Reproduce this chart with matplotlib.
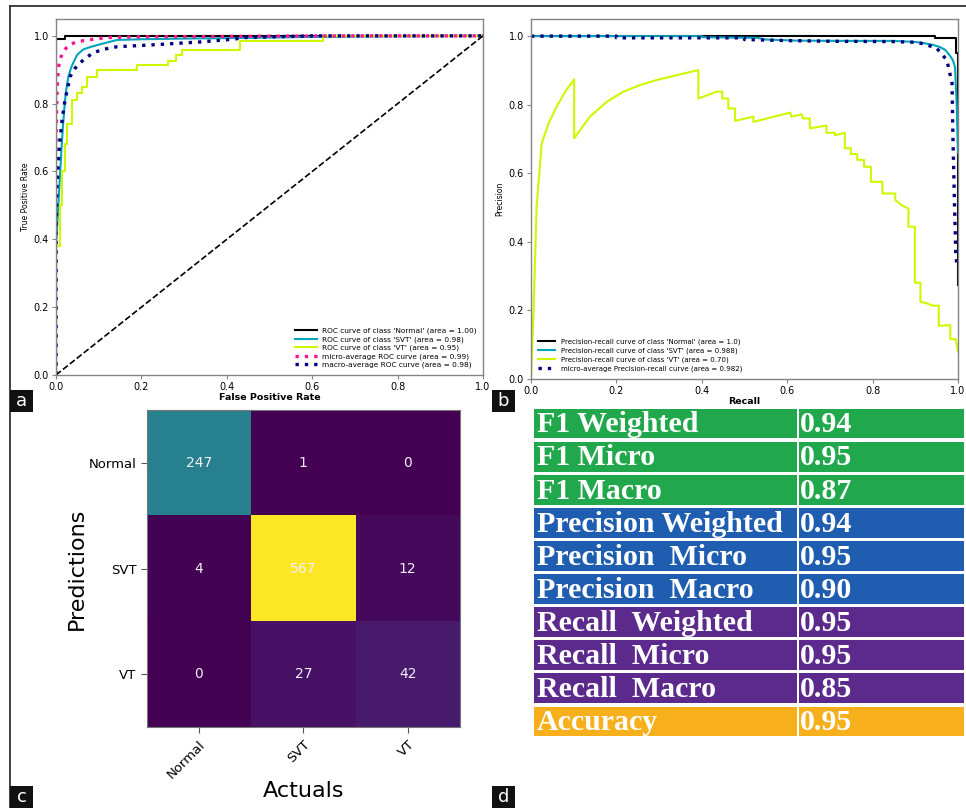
import numpy as np
import matplotlib
matplotlib.use('Agg')
import matplotlib.pyplot as plt
from matplotlib.lines import Line2D
from matplotlib.patches import Rectangle

# ---- panel a: ROC curves ----
roc_normal_fpr = [0.0, 0.0, 0.021, 0.021, 1.0]
roc_normal_tpr = [0.0, 0.99, 0.99, 1.0, 1.0]

roc_svt_fpr = [0.0, 0.0, 0.004, 0.008, 0.012, 0.016, 0.021, 0.025, 0.029, 0.035, 0.042, 0.05,
               0.064, 0.08, 0.1, 0.118, 0.143, 0.2, 0.3, 0.45, 0.6, 0.8, 1.0]
roc_svt_tpr = [0.0, 0.38, 0.47, 0.56, 0.65, 0.73, 0.81, 0.85, 0.88, 0.905, 0.925, 0.945,
               0.96, 0.967, 0.974, 0.98, 0.988, 0.99, 0.992, 0.994, 0.997, 0.999, 1.0]

roc_vt_fpr = [0.0, 0.0, 0.01, 0.015, 0.02, 0.026, 0.037, 0.049, 0.061, 0.072, 0.096,
              0.19, 0.263, 0.28, 0.295, 0.431, 0.625, 1.0]
roc_vt_tpr = [0.0, 0.38, 0.5, 0.6, 0.68, 0.74, 0.81, 0.83, 0.85, 0.88, 0.90,
              0.914, 0.926, 0.944, 0.959, 0.985, 1.0, 1.0]

roc_micro_fpr = [0.0, 0.0, 0.002, 0.005, 0.009, 0.014, 0.02, 0.026, 0.035, 0.049, 0.065,
                 0.087, 0.12, 0.2, 0.35, 0.5, 0.7, 1.0]
roc_micro_tpr = [0.0, 0.7, 0.82, 0.9, 0.93, 0.945, 0.958, 0.968, 0.976, 0.982, 0.986,
                 0.99, 0.995, 0.997, 0.998, 0.999, 1.0, 1.0]

roc_macro_fpr = [0.0, 0.0, 0.002, 0.005, 0.009, 0.015, 0.021, 0.033, 0.045, 0.056, 0.07,
                 0.087, 0.11, 0.143, 0.22, 0.337, 0.415, 0.44, 0.6, 1.0]
roc_macro_tpr = [0.0, 0.4, 0.55, 0.62, 0.69, 0.76, 0.81, 0.88, 0.905, 0.92, 0.935,
                 0.95, 0.96, 0.968, 0.973, 0.982, 0.99, 0.995, 1.0, 1.0]

roc_labels = ["ROC curve of class 'Normal' (area = 1.00)",
              "ROC curve of class 'SVT' (area = 0.98)",
              "ROC curve of class 'VT' (area = 0.95)",
              "micro-average ROC curve (area = 0.99)",
              "macro-average ROC curve (area = 0.98)"]

# ---- panel b: precision-recall curves ----
pr_normal_recall = [0.0, 0.946, 0.946, 0.995, 0.995, 1.0, 1.0]
pr_normal_precision = [1.0, 1.0, 0.995, 0.995, 0.95, 0.95, 0.274]

pr_svt_recall = [0.0, 0.40, 0.40, 0.53, 0.55, 0.62, 0.75, 0.85, 0.9, 0.918, 0.94, 0.958,
                 0.97, 0.98, 0.988, 0.993, 0.997, 1.0]
pr_svt_precision = [1.0, 1.0, 0.997, 0.995, 0.99, 0.987, 0.986, 0.986, 0.983, 0.98, 0.975, 0.968,
                    0.96, 0.945, 0.93, 0.91, 0.8, 0.66]

pr_vt_recall = [0.0, 0.006, 0.013, 0.025, 0.041, 0.06, 0.08, 0.101, 0.101, 0.138, 0.177, 0.216,
                0.255, 0.294, 0.341, 0.392, 0.392, 0.435, 0.448, 0.448, 0.462, 0.462, 0.478,
                0.478, 0.521, 0.521, 0.607, 0.61, 0.634, 0.637, 0.653, 0.653, 0.692, 0.692,
                0.712, 0.712, 0.735, 0.735, 0.749, 0.749, 0.764, 0.764, 0.78, 0.78, 0.796,
                0.796, 0.823, 0.823, 0.853, 0.853, 0.868, 0.884, 0.884, 0.899, 0.899, 0.912,
                0.912, 0.926, 0.94, 0.955, 0.955, 0.982, 0.982, 0.995, 1.0]
pr_vt_precision = [0.0, 0.2, 0.5, 0.687, 0.745, 0.794, 0.838, 0.874, 0.702, 0.765, 0.808, 0.838,
                   0.857, 0.872, 0.886, 0.901, 0.818, 0.838, 0.838, 0.818, 0.818, 0.789, 0.789,
                   0.753, 0.765, 0.75, 0.777, 0.765, 0.772, 0.76, 0.76, 0.731, 0.739, 0.718,
                   0.718, 0.711, 0.718, 0.673, 0.673, 0.656, 0.656, 0.639, 0.639, 0.619, 0.619,
                   0.575, 0.575, 0.541, 0.541, 0.522, 0.507, 0.497, 0.444, 0.444, 0.281, 0.281,
                   0.225, 0.221, 0.214, 0.214, 0.155, 0.157, 0.116, 0.116, 0.08]

pr_micro_recall = [0.0, 0.2, 0.2, 0.5, 0.5, 0.6, 0.7, 0.85, 0.9, 0.918, 0.95, 0.974, 0.986,
                   0.988, 0.992, 0.995, 0.997]
pr_micro_precision = [1.0, 1.0, 0.995, 0.995, 0.99, 0.987, 0.985, 0.984, 0.982, 0.978, 0.965,
                      0.93, 0.863, 0.717, 0.5, 0.36, 0.338]

pr_labels = ["Precision-recall curve of class 'Normal' (area = 1.0)",
             "Precision-recall curve of class 'SVT' (area = 0.988)",
             "Precision-recall curve of class 'VT' (area = 0.70)",
             "micro-average Precision-recall curve (area = 0.982)"]

# ---- panel c: confusion matrix ----
classes = ['Normal', 'SVT', 'VT']
conf_matrix = [[247, 1, 0],
               [4, 567, 12],
               [0, 27, 42]]

# ---- panel d: metrics table ----
metric_names = ['F1 Weighted', 'F1 Micro', 'F1 Macro',
                'Precision Weighted', 'Precision  Micro', 'Precision  Macro',
                'Recall  Weighted', 'Recall  Micro', 'Recall  Macro', 'Accuracy']
metric_values = [0.94, 0.95, 0.87, 0.94, 0.95, 0.90, 0.95, 0.95, 0.85, 0.95]
metric_groups = ['f1', 'f1', 'f1', 'prec', 'prec', 'prec', 'rec', 'rec', 'rec', 'acc']
group_colors = {'f1': '#22a84c', 'prec': '#1f5db0', 'rec': '#5b2a8c', 'acc': '#f7b01c'}

DOTTED = (0, (1, 1.8))


def style_curve_axes(ax):
    for s in ax.spines.values():
        s.set_color('#858585')
        s.set_linewidth(1.0)
    ax.tick_params(labelsize=7, length=3, color='#858585', pad=2)
    ax.set_xlim(0.0, 1.0)
    ax.set_ylim(0.0, 1.05)
    ax.set_xticks([0.0, 0.2, 0.4, 0.6, 0.8, 1.0])
    ax.set_yticks([0.0, 0.2, 0.4, 0.6, 0.8, 1.0])


def draw_roc(ax):
    cmap = plt.cm.nipy_spectral
    ax.plot(roc_normal_fpr, roc_normal_tpr, color=cmap(0.0), lw=1.5, label=roc_labels[0])
    ax.plot(roc_svt_fpr, roc_svt_tpr, color=cmap(1 / 3), lw=1.5, label=roc_labels[1])
    ax.plot(roc_vt_fpr, roc_vt_tpr, color=cmap(2 / 3), lw=1.5, drawstyle='steps-post',
            label=roc_labels[2])
    ax.plot(roc_micro_fpr, roc_micro_tpr, color='deeppink', ls=DOTTED, lw=2.4,
            label=roc_labels[3])
    ax.plot(roc_macro_fpr, roc_macro_tpr, color='navy', ls=DOTTED, lw=2.4,
            label=roc_labels[4])
    ax.plot([0, 1], [0, 1], 'k--', lw=1.2)
    style_curve_axes(ax)
    ax.set_xlabel('False Positive Rate', fontsize=6.8, fontweight='bold', labelpad=1)
    ax.set_ylabel('True Positive Rate', fontsize=5.5, labelpad=3)
    ax.legend(loc='lower right', fontsize=5.3, frameon=False, labelspacing=0.25,
              handlelength=3.0, handletextpad=0.6, borderaxespad=0.5)


def draw_pr(ax):
    cmap = plt.cm.nipy_spectral
    ax.plot(pr_normal_recall, pr_normal_precision, color=cmap(0.0), lw=1.5, label=pr_labels[0])
    ax.plot(pr_svt_recall, pr_svt_precision, color=cmap(1 / 3), lw=1.5, label=pr_labels[1])
    ax.plot(pr_vt_recall, pr_vt_precision, color=cmap(2 / 3), lw=1.5, label=pr_labels[2])
    ax.plot(pr_micro_recall, pr_micro_precision, color='navy', ls=DOTTED, lw=2.4,
            label=pr_labels[3])
    style_curve_axes(ax)
    ax.set_xlabel('Recall', fontsize=6.8, fontweight='bold', labelpad=1)
    ax.set_ylabel('Precision', fontsize=5.5, labelpad=3)
    ax.legend(loc='lower left', fontsize=5, frameon=False, labelspacing=0.35,
              handlelength=2.5, borderaxespad=0.6)


def draw_confusion(ax):
    data = np.array(conf_matrix)
    ax.imshow(data, cmap='viridis', aspect='auto')
    for i in range(len(classes)):
        for j in range(len(classes)):
            ax.text(j, i, str(data[i, j]), ha='center', va='center', color='#f4eef8', fontsize=10)
    ax.set_xticks(range(len(classes)))
    ax.set_yticks(range(len(classes)))
    ax.set_xticklabels(classes, rotation=45, ha='right', rotation_mode='anchor')
    ax.set_yticklabels(classes)
    ax.tick_params(labelsize=9.5, length=4, color='#555555')
    for s in ax.spines.values():
        s.set_color('#777777')
    ax.set_xlabel('Actuals', fontsize=16, labelpad=0)
    ax.set_ylabel('Predictions', fontsize=16, labelpad=1)


def draw_table(ax):
    rows = np.arange(len(metric_names))
    colors = [group_colors[g] for g in metric_groups]
    ax.barh(rows, 0.612, height=0.9, left=0.0, color=colors)
    ax.barh(rows, 0.384, height=0.9, left=0.616, color=colors)
    for r, name, val in zip(rows, metric_names, metric_values):
        ax.text(0.007, r + 0.04, name, ha='left', va='center', color='white', fontsize=21.5,
                fontweight='bold', family='Liberation Serif')
        ax.text(0.619, r + 0.04, f'{val:.2f}', ha='left', va='center', color='white',
                fontsize=21.5, fontweight='bold', family='Liberation Serif')
    ax.set_xlim(0, 1)
    ax.set_ylim(len(metric_names) - 0.5, -0.5)
    ax.axis('off')


def panel_tag(fig, x, y, letter):
    w, h = 23 / 966, 22 / 808
    fig.patches.append(Rectangle((x, y), w, h, transform=fig.transFigure,
                                 facecolor='#111111', edgecolor='none', zorder=5))
    fig.text(x + w / 2, y + h / 2, letter, ha='center', va='center', color='white',
             fontsize=13, zorder=6)


def run():
    fig = plt.figure(figsize=(9.66, 8.08), dpi=100)

    # frame lines of the composite figure
    fig.add_artist(Line2D([10 / 966, 1.0], [1 - 6 / 808, 1 - 6 / 808],
                          transform=fig.transFigure, color='#333333', lw=1.3))
    fig.add_artist(Line2D([10 / 966, 10 / 966], [0.0, 1 - 6 / 808],
                          transform=fig.transFigure, color='#333333', lw=1.3))

    ax_roc = fig.add_axes([0.058, 0.536, 0.442, 0.4406])
    ax_pr = fig.add_axes([0.5497, 0.531, 0.442, 0.4455])
    ax_cm = fig.add_axes([0.152, 0.100, 0.324, 0.392])
    ax_tab = fig.add_axes([0.5528, 0.0866, 0.445, 0.4097])

    draw_roc(ax_roc)
    draw_pr(ax_pr)
    draw_confusion(ax_cm)
    draw_table(ax_tab)

    panel_tag(fig, 10 / 966, 1 - 412 / 808, 'a')
    panel_tag(fig, 492 / 966, 1 - 412 / 808, 'b')
    panel_tag(fig, 10 / 966, 0.0, 'c')
    panel_tag(fig, 492 / 966, 0.0, 'd')

    fig.savefig('out.png', dpi=100)


if __name__ == '__main__':
    run()
